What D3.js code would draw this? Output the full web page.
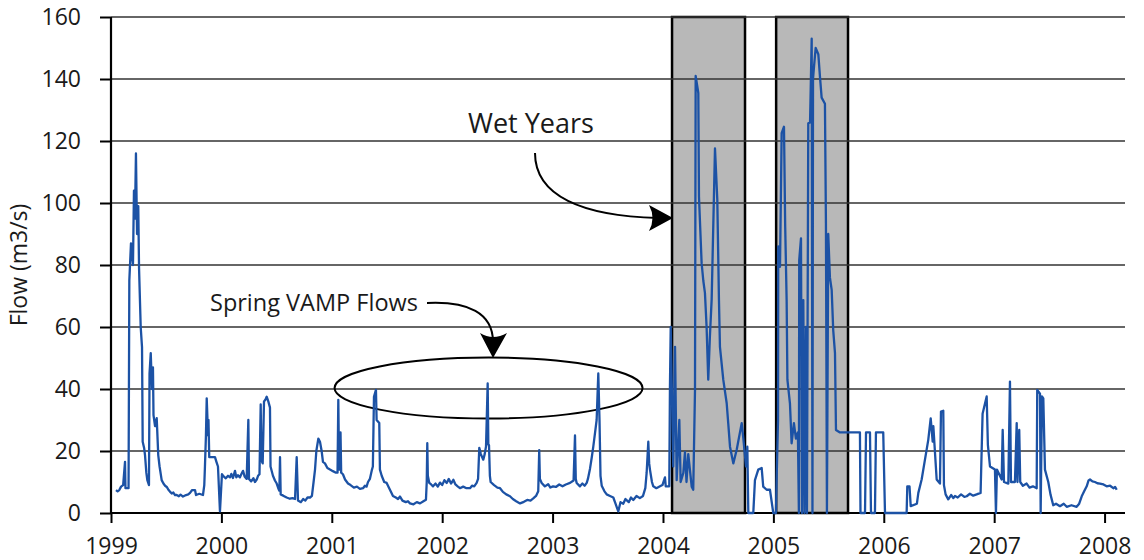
<!DOCTYPE html>
<html>
<head>
<meta charset="utf-8">
<script src="https://cdn.jsdelivr.net/npm/d3@7"></script>
<style>
  html, body { margin: 0; padding: 0; background: #fff; }
  svg { display: block; font-family: "Open Sans", sans-serif; }
</style>
</head>
<body>
<svg id="chart" width="1144" height="560"></svg>
<script>
// Daily river flow (m3/s), decimal year vs. flow
const flowSeries = [
  // 1999
  [1999.045, 7.4], [1999.060, 7.0], [1999.075, 7.4], [1999.091, 8.5], [1999.110, 9], [1999.127, 16.5],
  [1999.131, 8.0], [1999.159, 8.0], [1999.166, 75], [1999.181, 87], [1999.199, 80], [1999.208, 104],
  [1999.217, 95], [1999.226, 116], [1999.236, 90], [1999.247, 99], [1999.254, 79], [1999.269, 60],
  [1999.281, 53.5], [1999.287, 23], [1999.300, 21], [1999.308, 18.7], [1999.320, 13], [1999.329, 10.6],
  [1999.344, 9], [1999.349, 45], [1999.360, 51.6], [1999.371, 40], [1999.380, 47], [1999.385, 31.6],
  [1999.399, 28], [1999.414, 30.6], [1999.428, 18.7], [1999.440, 15], [1999.459, 10.6], [1999.475, 9.5],
  [1999.490, 8.8], [1999.505, 8.4], [1999.520, 7.5], [1999.534, 6.9], [1999.550, 6.3], [1999.565, 6.6],
  [1999.580, 5.8], [1999.595, 5.8], [1999.615, 5.4], [1999.630, 5.9], [1999.652, 5.3], [1999.680, 5.8],
  [1999.700, 6.0], [1999.716, 6.5], [1999.735, 7.4], [1999.761, 7.4], [1999.770, 5.8], [1999.800, 6.2],
  [1999.833, 5.8], [1999.845, 9], [1999.851, 15], [1999.860, 25], [1999.867, 37], [1999.873, 31],
  [1999.879, 25], [1999.883, 30], [1999.890, 18], [1999.903, 18], [1999.942, 18], [1999.955, 16.5],
  [1999.969, 15], [1999.987, 0.5], [2000.005, 12.5],
  // 2000
  [2000.020, 11.8], [2000.040, 11.2], [2000.060, 12.0], [2000.078, 11.5], [2000.090, 12.6], [2000.105, 11.3],
  [2000.123, 13.6], [2000.135, 11.5], [2000.150, 12.2], [2000.168, 11.5], [2000.180, 12.5], [2000.196, 13.6],
  [2000.210, 11.8], [2000.229, 11], [2000.244, 30], [2000.250, 11], [2000.270, 10.2], [2000.290, 11.2],
  [2000.304, 10], [2000.320, 10.8], [2000.332, 12], [2000.345, 12.5], [2000.356, 35], [2000.362, 17],
  [2000.374, 16], [2000.386, 36], [2000.398, 36.5], [2000.410, 37.5], [2000.425, 36], [2000.440, 34],
  [2000.445, 15], [2000.467, 12], [2000.485, 10.5], [2000.501, 9.5], [2000.515, 8], [2000.525, 7.2],
  [2000.531, 18], [2000.537, 6], [2000.560, 5.6], [2000.591, 5], [2000.620, 4.6], [2000.645, 4.8],
  [2000.667, 4.5], [2000.682, 18], [2000.694, 4], [2000.720, 3.5], [2000.740, 4.5], [2000.760, 4.0],
  [2000.780, 5], [2000.803, 5], [2000.820, 5.5], [2000.835, 10], [2000.848, 14], [2000.860, 20],
  [2000.878, 24], [2000.893, 23], [2000.908, 20], [2000.920, 16.5], [2000.938, 16], [2000.960, 14.5],
  [2000.984, 14], [2001.010, 13.5], [2001.038, 13], [2001.052, 13], [2001.059, 36.5], [2001.066, 14],
  // 2001
  [2001.072, 14], [2001.079, 26], [2001.085, 13], [2001.101, 12.5], [2001.120, 10.8], [2001.147, 9.5],
  [2001.170, 9], [2001.200, 8.2], [2001.228, 8.5], [2001.255, 7.8], [2001.283, 8], [2001.300, 8.8],
  [2001.315, 8.5], [2001.328, 10], [2001.345, 11], [2001.364, 14], [2001.372, 15], [2001.382, 37.5],
  [2001.400, 39.7], [2001.406, 30], [2001.430, 29], [2001.436, 14], [2001.452, 12], [2001.475, 10],
  [2001.497, 9.7], [2001.520, 8], [2001.540, 6.5], [2001.554, 5.5], [2001.580, 5], [2001.600, 4.5],
  [2001.618, 5.3], [2001.640, 4], [2001.670, 3.5], [2001.690, 3.8], [2001.708, 3.1], [2001.740, 2.8],
  [2001.770, 3.5], [2001.799, 3.1], [2001.830, 3.8], [2001.853, 4.3], [2001.860, 10], [2001.865, 22.5],
  [2001.870, 12], [2001.883, 9.7], [2001.900, 9.2], [2001.917, 8.6], [2001.940, 9.5], [2001.960, 8.5],
  [2001.980, 9.8],
  // 2002
  [2002.000, 9.0], [2002.020, 10.6], [2002.041, 9.7], [2002.060, 11.0], [2002.080, 9.5], [2002.101, 10.7],
  [2002.120, 9.2], [2002.140, 8.6], [2002.161, 8], [2002.190, 8.5], [2002.220, 8.0], [2002.252, 8],
  [2002.270, 8.8], [2002.290, 8.6], [2002.312, 9.7], [2002.325, 11], [2002.336, 21], [2002.350, 19],
  [2002.372, 17.2], [2002.385, 19], [2002.397, 21.5], [2002.412, 41.8], [2002.418, 22], [2002.424, 21.9],
  [2002.432, 12], [2002.439, 10], [2002.470, 9], [2002.500, 8.2], [2002.524, 8], [2002.550, 6.8],
  [2002.580, 6], [2002.614, 5.4], [2002.640, 4.5], [2002.670, 3.8], [2002.705, 3.1], [2002.740, 3.6],
  [2002.770, 4.2], [2002.800, 4.0], [2002.825, 4.7], [2002.850, 5.5], [2002.870, 7], [2002.879, 20.3],
  [2002.885, 11], [2002.901, 9.7], [2002.930, 8.6], [2002.960, 9.3], [2002.980, 8.2],
  // 2003
  [2003.004, 8.6], [2003.030, 8.4], [2003.060, 9.2], [2003.090, 8.6], [2003.120, 9.2], [2003.158, 9.7],
  [2003.190, 10.5], [2003.203, 25], [2003.210, 11], [2003.218, 9.7], [2003.248, 8.6], [2003.270, 9.5],
  [2003.290, 8.8], [2003.309, 9.7], [2003.320, 11], [2003.339, 14.3], [2003.355, 18], [2003.369, 21.5],
  [2003.385, 26], [2003.399, 30], [2003.414, 45], [2003.425, 30], [2003.434, 12], [2003.445, 8.8],
  [2003.470, 7], [2003.490, 6], [2003.520, 5.5], [2003.550, 5], [2003.570, 3], [2003.595, 0.5],
  [2003.615, 3.5], [2003.640, 3], [2003.660, 4.5], [2003.690, 3.5], [2003.710, 5], [2003.731, 4.2],
  [2003.760, 5.5], [2003.790, 4.8], [2003.819, 5.5], [2003.840, 8], [2003.852, 13], [2003.867, 23],
  [2003.875, 16], [2003.882, 14], [2003.900, 10], [2003.912, 8.6], [2003.940, 8.0], [2003.973, 8.6],
  [2003.995, 9.0],
  // 2004
  [2004.018, 11.5], [2004.025, 8.6], [2004.057, 8.6], [2004.063, 40.7], [2004.070, 60], [2004.093, 15],
  [2004.109, 53.6], [2004.124, 10.6], [2004.148, 30], [2004.160, 10], [2004.184, 12.9], [2004.199, 19.6],
  [2004.213, 10], [2004.229, 19], [2004.260, 8.5], [2004.274, 7.5], [2004.290, 39.7], [2004.296, 141],
  [2004.320, 135.5], [2004.326, 102], [2004.350, 80.6], [2004.365, 75], [2004.380, 71], [2004.395, 60],
  [2004.410, 43], [2004.425, 57], [2004.441, 69], [2004.471, 117.6], [2004.492, 101], [2004.507, 68.7],
  [2004.516, 53.6], [2004.546, 43], [2004.577, 35.4], [2004.591, 29], [2004.607, 21.4], [2004.637, 16],
  [2004.668, 20.5], [2004.713, 29], [2004.728, 24], [2004.752, 15], [2004.764, 21.4], [2004.773, 0],
  [2004.818, 0], [2004.833, 10.6], [2004.863, 14], [2004.894, 14.5], [2004.908, 8.5], [2004.939, 7.5],
  [2004.969, 7.5], [2004.999, 0],
  // 2005
  [2005.023, 0], [2005.030, 11.7], [2005.042, 30], [2005.044, 86], [2005.060, 79.4], [2005.075, 122.5],
  [2005.096, 124.6], [2005.107, 92.4], [2005.120, 68.7], [2005.127, 43], [2005.150, 35.4], [2005.165, 22.5],
  [2005.186, 29], [2005.204, 24], [2005.222, 26], [2005.231, 0], [2005.234, 81.6], [2005.250, 88.6],
  [2005.259, 0], [2005.271, 68.7], [2005.282, 0], [2005.295, 60], [2005.304, 0], [2005.316, 125.7],
  [2005.332, 126], [2005.347, 153], [2005.354, 0], [2005.359, 140], [2005.368, 144], [2005.383, 150],
  [2005.407, 148], [2005.422, 140.7], [2005.437, 134], [2005.467, 132], [2005.476, 93.5], [2005.485, 0],
  [2005.497, 90], [2005.512, 76], [2005.528, 72], [2005.542, 59], [2005.558, 51.6], [2005.567, 26.8],
  [2005.603, 26], [2005.784, 26], [2005.789, 0], [2005.830, 0], [2005.839, 26], [2005.875, 26],
  [2005.884, 0], [2005.920, 0], [2005.929, 26], [2005.995, 26],
  // 2006
  [2006.011, 0], [2006.207, 0], [2006.213, 8.6], [2006.233, 8.6], [2006.244, 2.2], [2006.300, 3],
  [2006.313, 6.5], [2006.343, 10.8], [2006.373, 17.2], [2006.403, 23.6], [2006.425, 30.5], [2006.443, 23],
  [2006.449, 28], [2006.479, 10.8], [2006.509, 9.5], [2006.518, 32.7], [2006.539, 33], [2006.545, 9],
  [2006.560, 6], [2006.584, 4.4], [2006.610, 5.8], [2006.630, 4.8], [2006.645, 5.5], [2006.670, 5.0],
  [2006.700, 6.0], [2006.730, 5.2], [2006.751, 5.4], [2006.780, 6.2], [2006.810, 5.6], [2006.841, 6],
  [2006.877, 6.5], [2006.895, 32], [2006.932, 37.6], [2006.943, 22], [2006.962, 15],
  // 2007
  [2007.007, 14], [2007.016, 0], [2007.025, 14], [2007.068, 10.8], [2007.077, 26.8], [2007.089, 10],
  [2007.128, 9.5], [2007.143, 42.4], [2007.152, 10], [2007.188, 10], [2007.204, 29], [2007.211, 10],
  [2007.227, 26.8], [2007.236, 10], [2007.260, 8.8], [2007.294, 9.5], [2007.320, 8.2], [2007.351, 8.6],
  [2007.385, 8], [2007.390, 39.7], [2007.415, 38.5], [2007.421, 0], [2007.433, 37.6], [2007.445, 37],
  [2007.460, 14], [2007.490, 10], [2007.510, 6], [2007.535, 2.5], [2007.560, 3], [2007.596, 2.2],
  [2007.630, 3], [2007.657, 2], [2007.700, 2.5], [2007.747, 2], [2007.770, 3], [2007.793, 5.4],
  [2007.815, 7], [2007.838, 8.6], [2007.855, 10.5], [2007.868, 10.8], [2007.890, 10.2], [2007.913, 10],
  [2007.935, 9.6], [2007.958, 9.5], [2007.990, 9.2],
  // 2008
  [2008.019, 8.6], [2008.050, 8.8], [2008.079, 8], [2008.095, 8.4], [2008.110, 7.5]
];

// Shaded wet-year periods (decimal years)
const wetStart = [2004.082, 2005.025];
const wetEnd = [2004.743, 2005.676];

const yTickValues = [0, 20, 40, 60, 80, 100, 120, 140, 160];
const xTickValues = [1999, 2000, 2001, 2002, 2003, 2004, 2005, 2006, 2007, 2008];

const svg = d3.select("#chart");
const plotLeft = 111, plotRight = 1125, plotTop = 17, plotBottom = 513;

const x = d3.scaleLinear().domain([1999, 2008.185]).range([plotLeft, plotRight]);
const y = d3.scaleLinear().domain([0, 160]).range([plotBottom, plotTop]);

// Wet-year boxes
svg.append("g").selectAll("rect")
  .data(wetStart.map((s, i) => [s, wetEnd[i]]))
  .join("rect")
  .attr("x", d => x(d[0]))
  .attr("y", y(160))
  .attr("width", d => x(d[1]) - x(d[0]))
  .attr("height", y(0) - y(160))
  .attr("fill", "#b8b8b8")
  .attr("stroke", "#000")
  .attr("stroke-width", 2.5);

// Horizontal gridlines
svg.append("g").selectAll("line")
  .data(yTickValues.filter(v => v > 0))
  .join("line")
  .attr("x1", plotLeft).attr("x2", plotRight)
  .attr("y1", d => y(d)).attr("y2", d => y(d))
  .attr("stroke", "#333").attr("stroke-width", 1.6);

// Axes
const yAxis = svg.append("g")
  .attr("transform", `translate(${plotLeft},0)`)
  .call(d3.axisLeft(y).tickValues(yTickValues).tickSize(11).tickPadding(19));
const xAxis = svg.append("g")
  .attr("transform", `translate(0,${plotBottom})`)
  .call(d3.axisBottom(x).tickValues(xTickValues).tickFormat(d3.format("d")).tickSize(10).tickPadding(15));

[yAxis, xAxis].forEach(g => {
  g.select(".domain").attr("stroke", "#000").attr("stroke-width", 2.2);
  g.selectAll(".tick line").attr("stroke", "#000").attr("stroke-width", 2);
  g.selectAll(".tick text")
    .attr("fill", "#1a1a1a")
    .style("font-family", "'Open Sans', sans-serif")
    .style("font-size", "23px");
});
xAxis.select(".domain").attr("d", `M${plotLeft},0H${plotRight}`);
yAxis.select(".domain").attr("d", `M0,${y(160)}V${y(0)}`);

// Axis title
svg.append("text")
  .attr("transform", `translate(27,${(plotTop + plotBottom) / 2}) rotate(-90)`)
  .attr("text-anchor", "middle")
  .attr("fill", "#1a1a1a")
  .style("font-size", "23px")
  .text("Flow (m3/s)");

// Annotation: spring VAMP ellipse
svg.append("ellipse")
  .attr("cx", x(2002.42)).attr("cy", y(40.3))
  .attr("rx", 154).attr("ry", 30.5)
  .attr("fill", "none").attr("stroke", "#000").attr("stroke-width", 2);

// Flow line
const line = d3.line().x(d => x(d[0])).y(d => y(d[1]));
svg.append("path")
  .datum(flowSeries)
  .attr("d", line)
  .attr("fill", "none")
  .attr("stroke", "#1c52a5")
  .attr("stroke-width", 2.3)
  .attr("stroke-linejoin", "round");

// Labels and callout arrows
svg.append("text")
  .attr("x", 210).attr("y", 311)
  .attr("fill", "#1a1a1a")
  .style("font-size", "23.5px")
  .text("Spring VAMP Flows");

svg.append("text")
  .attr("x", 468).attr("y", 133)
  .attr("fill", "#1a1a1a")
  .style("font-size", "27px")
  .text("Wet Years");

svg.append("path")
  .attr("d", "M427,303 C468,301 493,313 493,342")
  .attr("fill", "none").attr("stroke", "#000").attr("stroke-width", 2);
svg.append("path")
  .attr("d", "M493,358 L480,333 Q493,341 507,333 Z")
  .attr("fill", "#000");

svg.append("path")
  .attr("d", "M535,153 C535,196 582,216 658,218")
  .attr("fill", "none").attr("stroke", "#000").attr("stroke-width", 2);
svg.append("path")
  .attr("d", "M673,218 L649,205 Q656,218 649,231 Z")
  .attr("fill", "#000");
</script>
</body>
</html>
